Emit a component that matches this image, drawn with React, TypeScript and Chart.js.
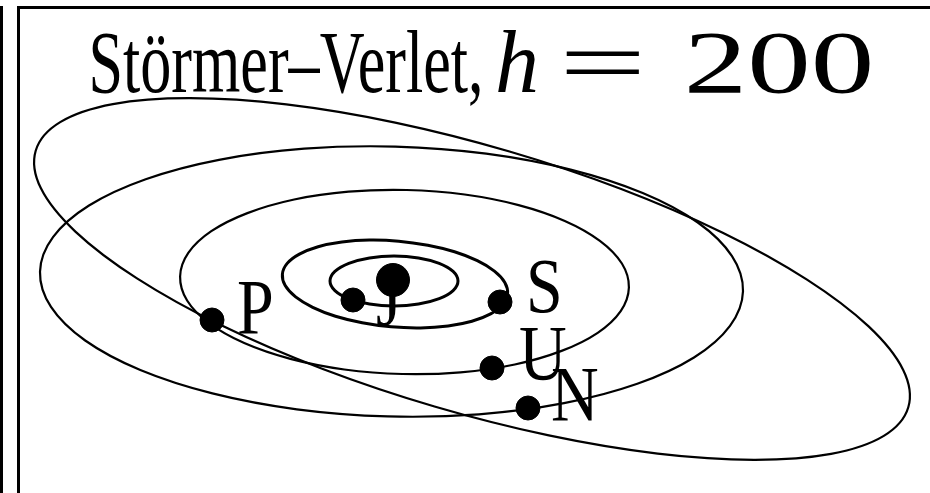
import { useEffect, useRef } from "react";
import { Chart, registerables } from "chart.js";

Chart.register(...registerables);

// Heading pieces: running text, then the step size in math style
const headingText = "Störmer–Verlet,";
const headingSymbol = "h";
const headingRelation = "=";
const headingValue = "200";

// Sun at the origin of the projected plane
const sunX = [0];
const sunY = [0];

// Planet positions at the plotted instant (projected coordinates)
const planetNames = ["J", "S", "U", "N", "P"];
const planetX = [-4.0, 10.7, 9.9, 13.5, -18.1];
const planetY = [-2.0, -2.2, -8.8, -12.8, -4.0];

// Orbit traces, one closed loop per planet
const jupiterX = [6.5, 6.01, 4.62, 2.55, 0.1, -2.35, -4.42, -5.81, -6.3, -5.81, -4.42, -2.35, 0.1, 2.55, 4.62, 6.01];
const jupiterY = [-0.1, -1.06, -1.87, -2.41, -2.6, -2.41, -1.87, -1.06, -0.1, 0.86, 1.67, 2.21, 2.4, 2.21, 1.67, 0.86];

const saturnX = [11.46, 10.98, 9.76, 7.89, 5.51, 2.76, -0.18, -3.08, -5.75, -8.03, -9.74, -10.78, -11.06, -10.58, -9.36, -7.49, -5.11, -2.36, 0.58, 3.48, 6.15, 8.43, 10.14, 11.18];
const saturnY = [-1.39, -2.46, -3.39, -4.13, -4.6, -4.79, -4.68, -4.27, -3.62, -2.73, -1.69, -0.56, 0.59, 1.66, 2.59, 3.33, 3.8, 3.99, 3.88, 3.47, 2.82, 1.93, 0.89, -0.24];

const uranusX = [23.59, 22.77, 20.47, 16.86, 12.18, 6.75, 0.93, -4.87, -10.26, -14.88, -18.39, -20.59, -21.29, -20.47, -18.17, -14.56, -9.88, -4.45, 1.37, 7.17, 12.56, 17.18, 20.69, 22.89];
const uranusY = [-0.75, -3.11, -5.28, -7.09, -8.45, -9.23, -9.4, -8.95, -7.89, -6.31, -4.32, -2.05, 0.35, 2.71, 4.88, 6.69, 8.05, 8.83, 9.0, 8.55, 7.49, 5.91, 3.92, 1.65];

const neptuneX = [35.0, 33.7, 30.1, 24.43, 17.1, 8.58, -0.53, -9.62, -18.06, -25.27, -30.78, -34.2, -35.3, -34.0, -30.4, -24.73, -17.4, -8.88, 0.23, 9.32, 17.76, 24.97, 30.48, 33.9];
const neptuneY = [-1.13, -4.59, -7.75, -10.38, -12.32, -13.43, -13.64, -12.93, -11.34, -9.0, -6.05, -2.69, 0.83, 4.29, 7.45, 10.08, 12.02, 13.13, 13.34, 12.63, 11.04, 8.7, 5.75, 2.39];

const plutoX = [51.53, 49.08, 43.81, 36.1, 26.47, 15.58, 4.15, -7.02, -17.17, -25.6, -31.76, -35.22, -35.73, -33.28, -28.01, -20.3, -10.67, 0.22, 11.65, 22.82, 32.97, 41.4, 47.56, 51.02];
const plutoY = [-12.73, -15.59, -17.39, -17.98, -17.36, -15.54, -12.65, -8.9, -4.53, 0.16, 4.84, 9.19, 12.93, 15.79, 17.59, 18.18, 17.56, 15.74, 12.85, 9.1, 4.73, 0.04, -4.64, -8.99];

// Visible window of the projected plane
const xMin = -39.3;
const xMax = 53.7;
const yMin = -21.3;
const yMax = 28.0;

type Pt = { x: number; y: number };

function zip(xs: number[], ys: number[]): Pt[] {
  return xs.map((x, i) => ({ x, y: ys[i] }));
}

// Pads a loop with its neighbours on both ends so the spline closes smoothly;
// the two padding segments are hidden by the segment style below.
function closedLoop(xs: number[], ys: number[]): Pt[] {
  const pts = zip(xs, ys);
  const n = pts.length;
  return [pts[n - 1], ...pts, pts[0], pts[1]];
}

function orbitDataset(xs: number[], ys: number[], width: number) {
  const data = closedLoop(xs, ys);
  const lastStart = data.length - 2;
  return {
    data,
    showLine: true,
    borderColor: "#000",
    borderWidth: width,
    pointRadius: 0,
    pointHoverRadius: 0,
    tension: 0.35,
    fill: false,
    order: 2,
    segment: {
      borderColor: (ctx: any) =>
        ctx.p0DataIndex === 0 || ctx.p0DataIndex === lastStart ? "rgba(0,0,0,0)" : undefined,
    },
  };
}

const SERIF = '"Liberation Serif", "Times New Roman", serif';

// Label placement next to each planet marker (pixels)
const labelDx = [23, 26, 27, 23, 25];
const labelDy = [25, 10, 11, 12, 13];

const framePlugin = {
  id: "panelFrame",
  beforeDraw(chart: any) {
    const { ctx, width, height } = chart;
    ctx.save();
    ctx.fillStyle = "#fff";
    ctx.fillRect(0, 0, width, height);
    ctx.fillStyle = "#000";
    ctx.fillRect(0, 6, 3, height - 6);
    ctx.fillRect(17, 6, 3, height - 6);
    ctx.fillRect(17, 6, width - 17, 3);
    ctx.restore();
  },
  afterDatasetsDraw(chart: any) {
    const { ctx } = chart;
    ctx.save();
    ctx.fillStyle = "#000";
    ctx.textAlign = "left";
    ctx.textBaseline = "alphabetic";

    // planet labels
    const meta = chart.getDatasetMeta(1);
    ctx.font = `66px ${SERIF}`;
    meta.data.forEach((el: any, i: number) => {
      ctx.save();
      ctx.translate(el.x + labelDx[i], el.y + labelDy[i]);
      ctx.scale(1, 1.18);
      ctx.fillText(planetNames[i], 0, 0);
      ctx.restore();
    });

    // heading
    const runs = [
      { text: headingText, italic: false, left: 92, right: 480 },
      { text: headingSymbol, italic: true, left: 498, right: 536 },
      { text: headingRelation, italic: false, left: 566, right: 640 },
      { text: headingValue, italic: false, left: 688, right: 870 },
    ];
    const baseline = 92;
    runs.forEach((r) => {
      ctx.font = `${r.italic ? "italic " : ""}88px ${SERIF}`;
      const m = ctx.measureText(r.text);
      const gw = m.actualBoundingBoxLeft + m.actualBoundingBoxRight;
      const sx = (r.right - r.left) / gw;
      ctx.save();
      ctx.translate(r.left, baseline);
      ctx.scale(sx, 1);
      ctx.fillText(r.text, m.actualBoundingBoxLeft, 0);
      ctx.restore();
    });
    ctx.restore();
  },
};

export default function App() {
  const canvasRef = useRef<HTMLCanvasElement | null>(null);

  useEffect(() => {
    const canvas = canvasRef.current;
    if (!canvas) return;
    const chart = new Chart(canvas, {
      type: "scatter",
      data: {
        datasets: [
          {
            data: zip(sunX, sunY),
            backgroundColor: "#000",
            borderColor: "#000",
            pointRadius: 16.5,
            pointHoverRadius: 16.5,
            order: 0,
          } as any,
          {
            data: zip(planetX, planetY),
            backgroundColor: "#000",
            borderColor: "#000",
            pointRadius: 12,
            pointHoverRadius: 12,
            order: 0,
          } as any,
          orbitDataset(jupiterX, jupiterY, 3) as any,
          orbitDataset(saturnX, saturnY, 3) as any,
          orbitDataset(uranusX, uranusY, 2.2) as any,
          orbitDataset(neptuneX, neptuneY, 2.2) as any,
          orbitDataset(plutoX, plutoY, 2.2) as any,
        ],
      },
      options: {
        responsive: false,
        animation: false,
        events: [],
        layout: { padding: 0, autoPadding: false },
        plugins: {
          legend: { display: false },
          title: { display: false },
          tooltip: { enabled: false },
        },
        scales: {
          x: { type: "linear", min: xMin, max: xMax, display: false },
          y: { type: "linear", min: yMin, max: yMax, display: false },
        },
      },
      plugins: [framePlugin],
    });
    if ((document as any).fonts?.ready) {
      (document as any).fonts.ready.then(() => chart.draw());
    }
    return () => chart.destroy();
  }, []);

  return (
    <div style={{ position: "fixed", left: 0, top: 0, width: 930, height: 493, background: "#fff" }}>
      <canvas ref={canvasRef} width={930} height={493} style={{ display: "block" }} />
    </div>
  );
}
